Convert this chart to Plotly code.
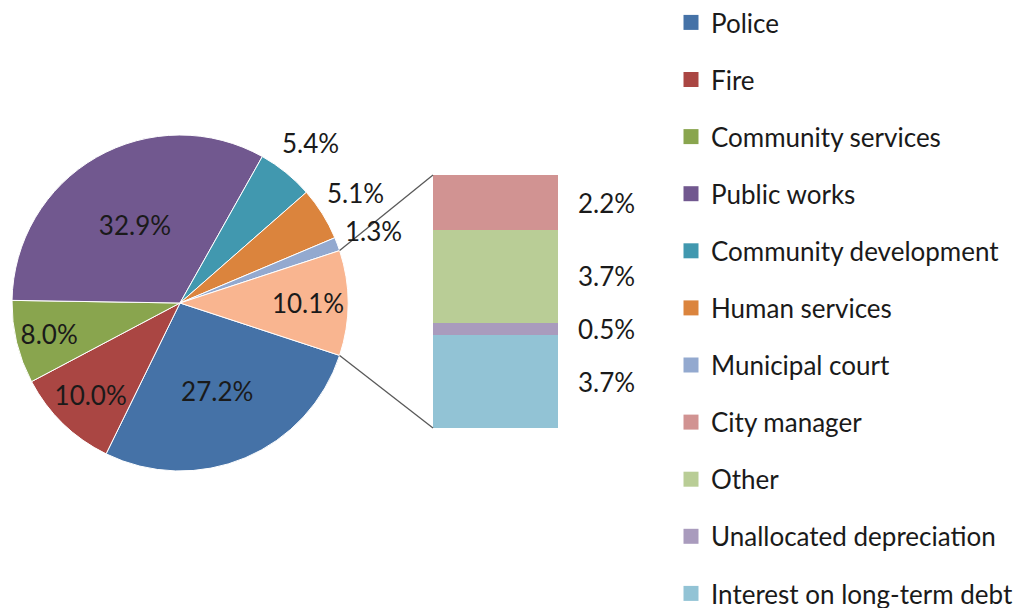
import math
import plotly.graph_objects as go

# ---- data ----
pie_labels = ["Police", "Fire", "Community services", "Public works",
              "Community development", "Human services", "Municipal court", "Other"]
pie_values = [27.2, 10.0, 8.0, 32.9, 5.4, 5.1, 1.3, 10.1]
pie_colors = ["#4572A7", "#AA4643", "#89A54E", "#71588F",
              "#4198AF", "#DB843D", "#93A9CF", "#F9B590"]
pie_inside = [True, True, True, True, False, False, False, True]

bar_labels = ["Interest on long-term debt", "Unallocated depreciation", "Other", "City manager"]
bar_values = [3.7, 0.5, 3.7, 2.2]
bar_colors = ["#92C3D5", "#A99BBD", "#B9CD96", "#D19392"]

legend_labels = pie_labels[:7] + ["City manager", "Other", "Unallocated depreciation",
                                  "Interest on long-term debt"]
legend_colors = pie_colors[:7] + ["#D19392", "#B9CD96", "#A99BBD", "#92C3D5"]

W, H = 1032, 608
OFF = 8  # page body margin offset
FONT = "Lato"
FS = 26
TXT = "#1a1a1a"

# geometry (window pixels)
cx, cy, R = 180, 303, 168
bar_x0, bar_x1, bar_top, bar_bot = 433, 558, 175, 428
OUT_R = 1.23  # outside label radius factor


def px(x):
    return (x - OFF) / W


def py(y):
    return 1 - (y - OFF) / H


fig = go.Figure()

total = sum(pie_values)
other_share = pie_values[-1] / total * 360.0
rotation = 90 + other_share / 2.0  # lower edge of "Other" slice, clockwise from 12 o'clock

fig.add_trace(go.Pie(
    labels=pie_labels, values=pie_values, sort=False, direction="clockwise",
    rotation=rotation,
    marker=dict(colors=pie_colors, line=dict(color="white", width=1)),
    texttemplate="%{value:.1f}%",
    textposition=["inside" if ins else "none" for ins in pie_inside],
    insidetextorientation="horizontal",
    textfont=dict(family=FONT, size=FS, color=TXT),
    domain=dict(x=[px(cx - R), px(cx + R)], y=[py(cy + R), py(cy - R)]),
    showlegend=False, hoverinfo="label+percent",
))

# outside labels for small slices, placed along the slice mid-angle
start = rotation
for val, ins in zip(pie_values, pie_inside):
    span = val / total * 360.0
    mid = math.radians(start + span / 2.0)
    start += span
    if ins:
        continue
    tx = cx + OUT_R * R * math.sin(mid)
    ty = cy - OUT_R * R * math.cos(mid)
    fig.add_annotation(x=px(tx), y=py(ty), xref="paper", yref="paper",
                       text=f"{val:.1f}%", showarrow=False,
                       xanchor="center", yanchor="middle",
                       font=dict(family=FONT, size=FS, color=TXT))

# stacked bar
for lab, val, col in zip(bar_labels, bar_values, bar_colors):
    fig.add_trace(go.Bar(x=[0], y=[val], name=lab, marker=dict(color=col, line=dict(width=0)),
                         width=1, showlegend=False, xaxis="x", yaxis="y"))

# bar labels
cum = 0
for val in bar_values:
    mid = cum + val / 2
    cum += val
    fig.add_annotation(x=1, xref="x domain", xanchor="left", xshift=18, y=mid, yref="y",
                       text=f"{val:.1f}%", showarrow=False,
                       font=dict(family=FONT, size=FS, color=TXT))

# connector lines from pie "Other" slice edges to bar corners
half = math.radians(other_share / 2.0)
ux, uy = cx + R * math.cos(half), cy - R * math.sin(half)
lx, ly = cx + R * math.cos(half), cy + R * math.sin(half)
for (ax, ay, bx, by) in [(ux, uy, bar_x0, bar_top), (lx, ly, bar_x0, bar_bot)]:
    fig.add_shape(type="line", xref="paper", yref="paper",
                  x0=px(ax), y0=py(ay), x1=px(bx), y1=py(by),
                  line=dict(color="#595959", width=1.3))

# legend entries
for i, (lab, col) in enumerate(zip(legend_labels, legend_colors)):
    fig.add_trace(go.Scatter(x=[None], y=[None], mode="markers", name=lab,
                             marker=dict(symbol="square", size=15, color=col),
                             legendgroup=f"g{i}", xaxis="x", yaxis="y"))

fig.update_layout(
    width=W, height=H, margin=dict(l=0, r=0, t=0, b=0, autoexpand=False),
    paper_bgcolor="white", plot_bgcolor="white",
    barmode="stack",
    xaxis=dict(domain=[px(bar_x0), px(bar_x1)], range=[-0.5, 0.5], visible=False, fixedrange=True),
    yaxis=dict(domain=[py(bar_bot), py(bar_top)], range=[0, sum(bar_values)],
               visible=False, fixedrange=True),
    legend=dict(x=px(671), y=1.0 + 9 / H, xanchor="left", yanchor="top", traceorder="grouped",
                tracegroupgap=20.3, maxheight=800, font=dict(family=FONT, size=FS, color=TXT),
                bgcolor="rgba(0,0,0,0)", itemclick=False, itemdoubleclick=False),
    showlegend=True,
)

fig.write_html("out.html")
